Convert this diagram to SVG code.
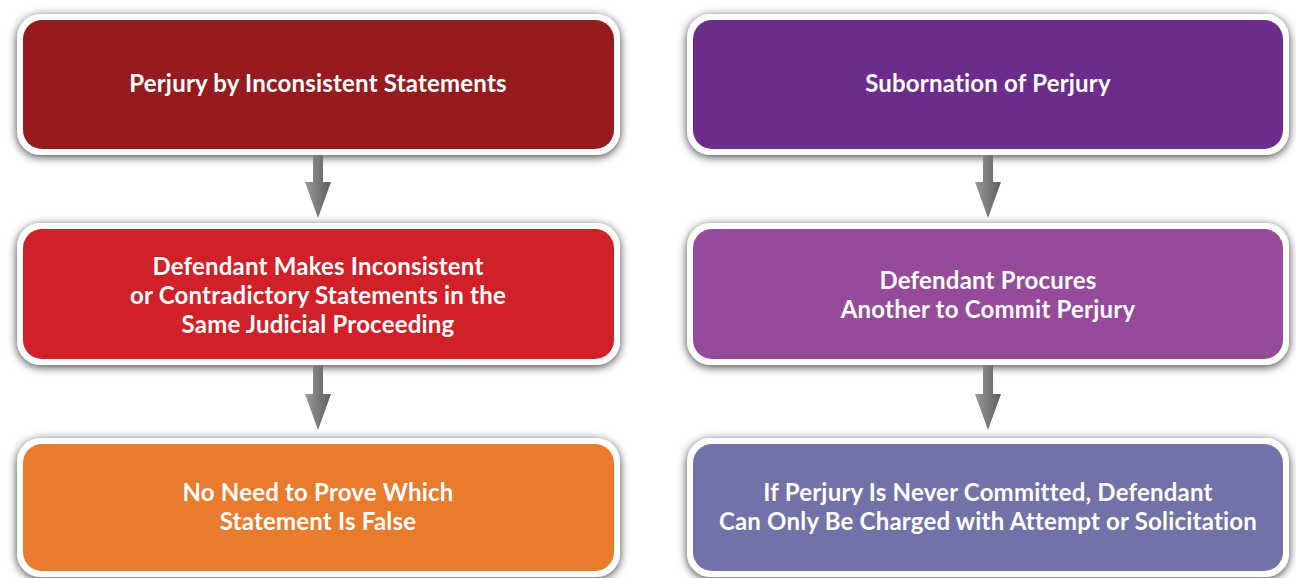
<svg xmlns="http://www.w3.org/2000/svg" width="1296" height="578" viewBox="0 0 1296 578">
<defs>
<filter id="sh" x="-10%" y="-20%" width="120%" height="140%">
<feDropShadow dx="0" dy="2" stdDeviation="5" flood-color="#000" flood-opacity="0.75"/>
</filter>
<linearGradient id="ag" x1="0" y1="0" x2="1" y2="0">
<stop offset="0" stop-color="#9a9a9a"/>
<stop offset="0.5" stop-color="#7a7a7a"/>
<stop offset="1" stop-color="#5e5e5e"/>
</linearGradient>
<style>
.outer{fill:#ffffff;filter:url(#sh)}
.t{font-family:"Lato","Open Sans","Liberation Sans",sans-serif;font-weight:700;font-size:24px;letter-spacing:0.2px;fill:#ffffff;text-anchor:middle}
.arr{fill:url(#ag)}
</style>
</defs>
<rect width="1296" height="578" fill="#ffffff"/>
<g id="n1">
<rect class="outer" x="17" y="14" width="603" height="141" rx="24"/>
<rect x="23" y="20" width="591" height="129" rx="19" fill="#951b1f"/>
<text class="t" x="318" y="92">Perjury by Inconsistent Statements</text>
</g>
<g id="n2">
<rect class="outer" x="17" y="223" width="603" height="142" rx="24"/>
<rect x="23" y="229" width="591" height="130" rx="19" fill="#d02128"/>
<text class="t" x="318" y="275">Defendant Makes Inconsistent</text>
<text class="t" x="318" y="304">or Contradictory Statements in the</text>
<text class="t" x="318" y="333">Same Judicial Proceeding</text>
</g>
<g id="n3">
<rect class="outer" x="17" y="438" width="603" height="139" rx="24"/>
<rect x="23" y="444" width="591" height="127" rx="19" fill="#e87b2c"/>
<text class="t" x="318" y="501">No Need to Prove Which</text>
<text class="t" x="318" y="530">Statement Is False</text>
</g>
<g id="n4">
<rect class="outer" x="687" y="14" width="602" height="141" rx="24"/>
<rect x="693" y="20" width="590" height="129" rx="19" fill="#6c2c8b"/>
<text class="t" x="988" y="92">Subornation of Perjury</text>
</g>
<g id="n5">
<rect class="outer" x="687" y="223" width="602" height="142" rx="24"/>
<rect x="693" y="229" width="590" height="130" rx="19" fill="#964a9a"/>
<text class="t" x="988" y="289">Defendant Procures</text>
<text class="t" x="988" y="318">Another to Commit Perjury</text>
</g>
<g id="n6">
<rect class="outer" x="687" y="438" width="602" height="139" rx="24"/>
<rect x="693" y="444" width="590" height="127" rx="19" fill="#7272a8"/>
<text class="t" x="988" y="501">If Perjury Is Never Committed, Defendant</text>
<text class="t" x="988" y="530">Can Only Be Charged with Attempt or Solicitation</text>
</g>
<g id="connectors">
<polygon class="arr" points="313,155 323,155 323,182 331,182 318,218 305,182 313,182"/>
<polygon class="arr" points="313,365 323,365 323,394 331,394 318,430 305,394 313,394"/>
<polygon class="arr" points="983,155 993,155 993,182 1001,182 988,218 975,182 983,182"/>
<polygon class="arr" points="983,365 993,365 993,394 1001,394 988,430 975,394 983,394"/>
</g>
</svg>
